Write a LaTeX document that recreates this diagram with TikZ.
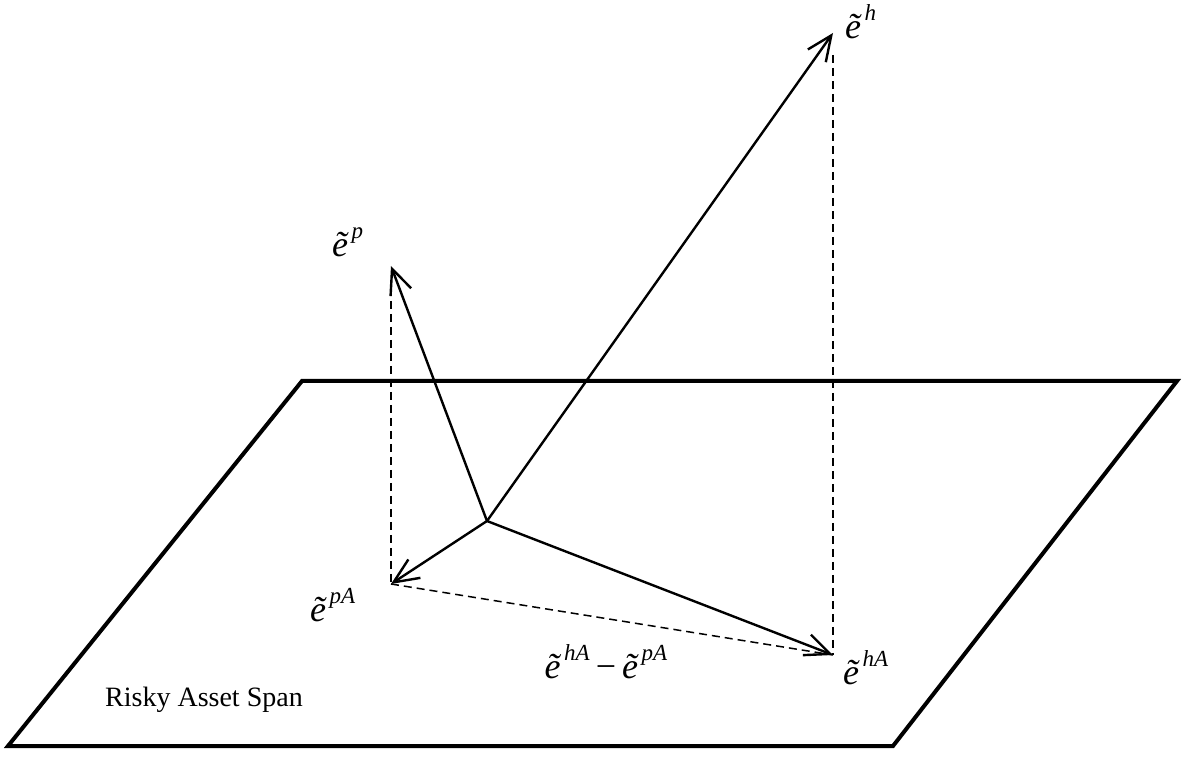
\documentclass[tikz,border=0pt]{standalone}
\usepackage{fontspec}
\setmainfont{Liberation Serif}
\usetikzlibrary{arrows.meta}

\newcommand{\vt}[1]{\textit{ẽ}\kern0.08em\raisebox{0.5em}{\fontsize{11.5}{12}\selectfont\textit{#1}}}

\begin{document}
\begin{tikzpicture}[x=0.5pt, y=-0.5pt, every node/.style={font=\fontsize{18}{20}\selectfont},
    vec/.style={line width=1.2pt, -{Straight Barb[length=12.5pt, width=11pt, line width=1.2pt]}},
    proj/.style={line width=0.75pt, dash pattern=on 4pt off 2.5pt}]
    \useasboundingbox (0,0) rectangle (1185,759);
    % plane
    \draw[line width=2pt, line join=miter] (302,381) -- (1177,381) -- (893,746) -- (8,746) -- cycle;
    \node[font=\fontsize{14}{16}\selectfont] (span) at (204,700) {Risky Asset Span};
    % vectors
    \coordinate (O) at (487,521);
    \coordinate (h) at (833,33);
    \coordinate (p) at (391,266);
    \coordinate (pA) at (391,584);
    \coordinate (hA) at (833,655);
    \draw[proj, shorten <=11pt] (p) -- (pA);
    \draw[proj, shorten <=11pt] (h) -- (hA);
    \draw[proj] (pA) -- (hA);
    \draw[vec] (O) -- (h);
    \draw[vec] (O) -- (p);
    \draw[vec] (O) -- (pA);
    \draw[vec] (O) -- (hA);
    % labels
    \node[anchor=west] (lh) at (838,22) {\vt{h}};
    \node[anchor=west] (lp) at (325,242) {\vt{p}};
    \node[anchor=west] (lpA) at (303,605) {\vt{pA}};
    \node[anchor=west] (lhA) at (836,668) {\vt{hA}};
    \node (ldiff) at (606,662) {\vt{hA}\,−\,\vt{pA}};
\end{tikzpicture}
\end{document}
